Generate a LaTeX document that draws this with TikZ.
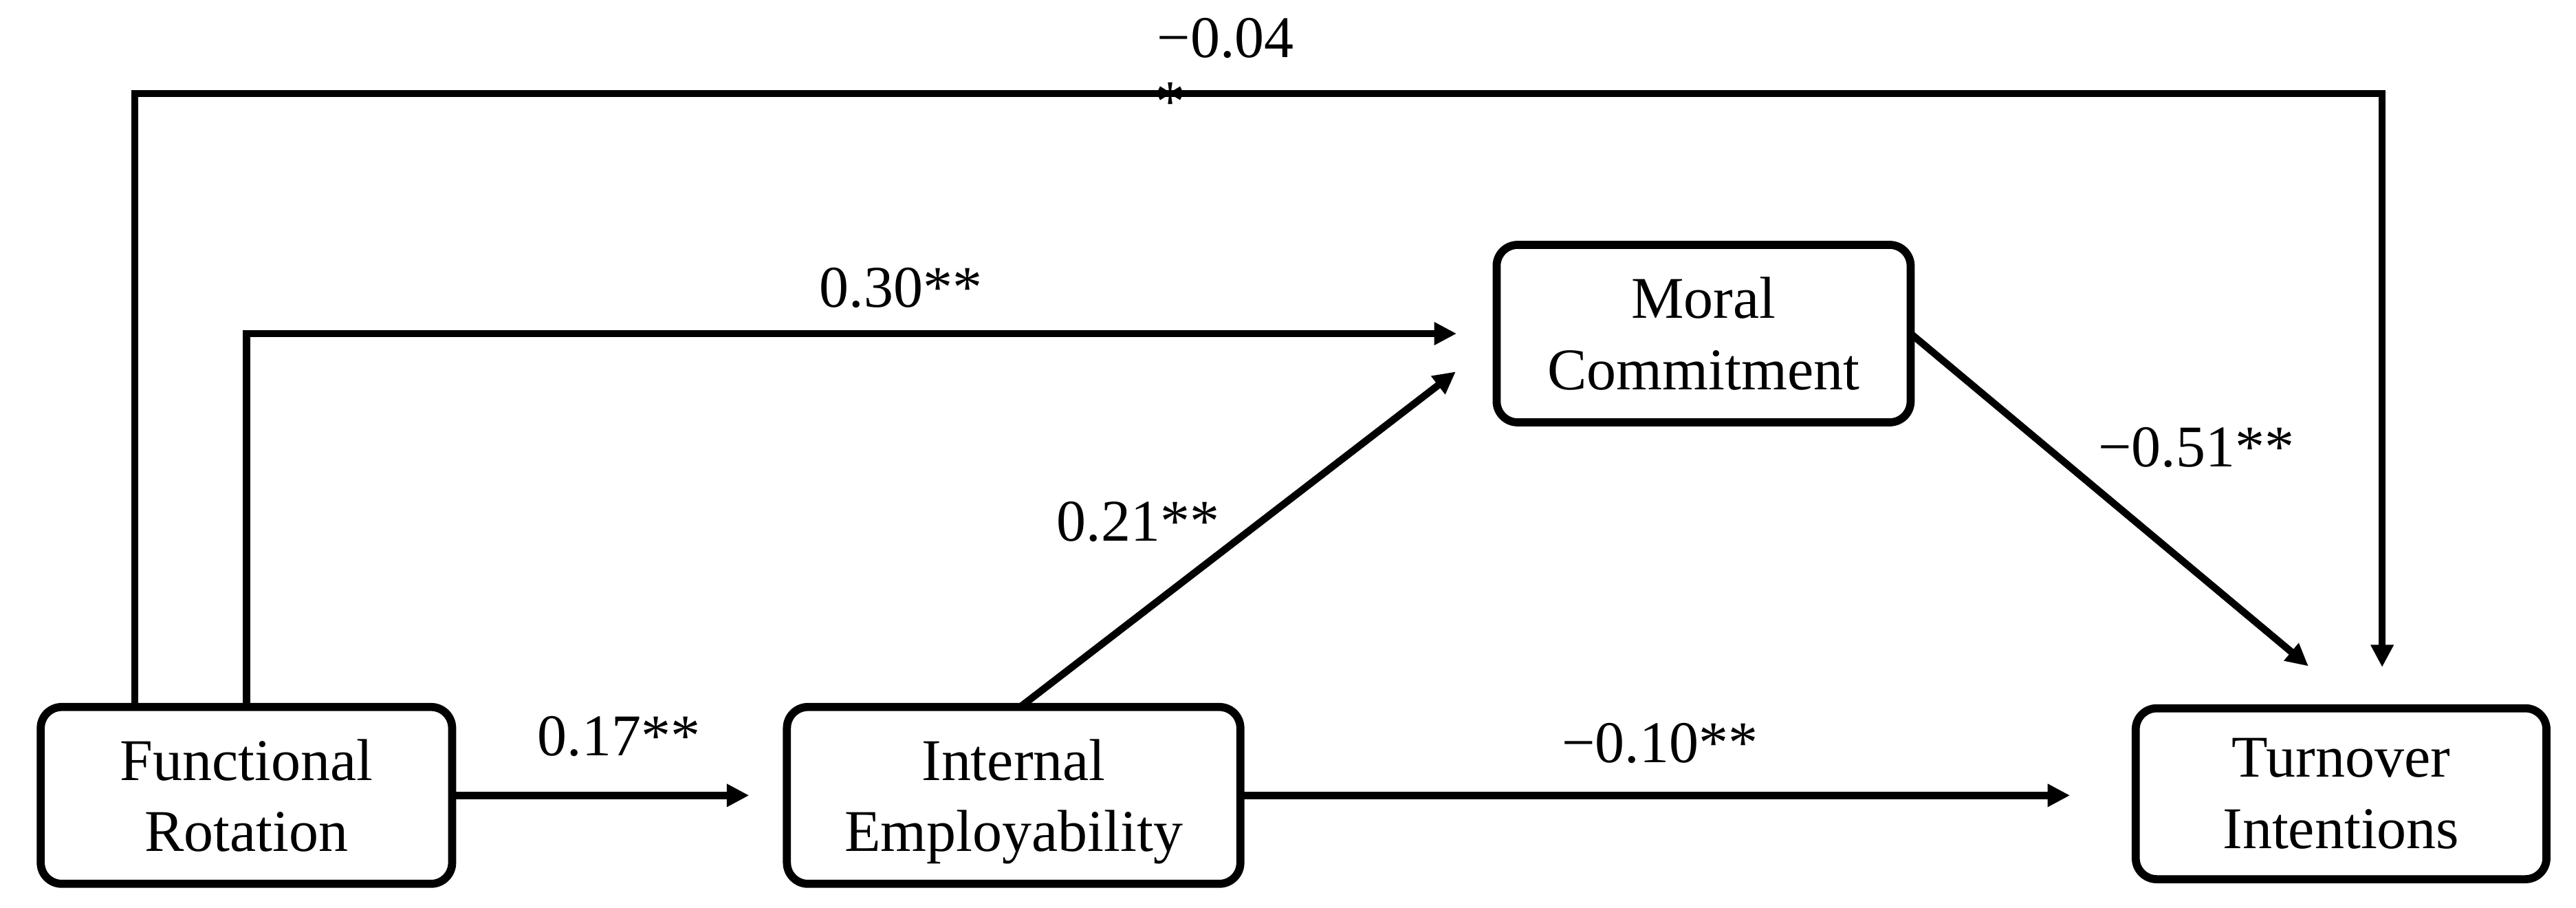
\documentclass[tikz,border=0pt]{standalone}
\usepackage{fontspec}
\usepackage{amsmath}
\setmainfont{Liberation Serif}
\usetikzlibrary{arrows.meta}
\begin{document}
\begin{tikzpicture}[x=0.25mm,y=-0.25mm,
  box/.style={draw,line width=3.5pt,rounded corners=3.2mm,align=center,inner sep=0pt,outer sep=0pt,
    minimum height=26.9mm,font=\fontsize{25.6pt}{30.8pt}\selectfont},
  conn/.style={line width=3.1pt,-{Triangle[length=3.4mm,width=3.3mm]}},
  coef/.style={anchor=base west,inner sep=0pt,font=\fontsize{25.6pt}{30.8pt}\selectfont}]
\useasboundingbox (0,0) rectangle (1568,552.5);
% boxes
\node[box,minimum width=62.6mm] (FR) at (150,484) {Functional\\Rotation};
\node[box,minimum width=69mm] (IE) at (617,484) {Internal\\\smash[b]{Employability}};
\node[box,minimum width=63mm,minimum height=27mm] (MC) at (1037,203) {Moral\\Commitment};
\node[box,minimum width=62.5mm,minimum height=26mm] (TI) at (1425,483) {Turnover\\Intentions};
\coordinate (topline) at (766,57);
% connectors
\draw[conn,shorten >=5.75mm] (FR.east) -- (IE.west);
\draw[conn,shorten >=10mm] (IE.east) -- (IE.east -| TI.west);
\draw[conn,shorten >=6.1mm] (FR.north) |- (MC.west);
\draw[conn,shorten >=6.25mm] ([xshift=-17mm]FR.north) |- (topline) -| ([xshift=6.25mm]TI.north);
\draw[conn,shorten >=7.85mm] ([xshift=1mm]IE.north) -- ([yshift=-1mm]MC.west);
\draw[conn,shorten >=10mm] (MC.east) -- ([xshift=2.7mm]TI.north);
% coefficients
\node[coef] (c04) at (704,35) {−0.04};
\node[coef] (c04s) at (703,74) {*};
\node[coef] (c30) at (498.5,187) {0.30**};
\node[coef] (c21) at (643,329.3) {0.21**};
\node[coef] (c17) at (327,460) {0.17**};
\node[coef] (c10) at (950.5,464) {−0.10**};
\node[coef] (c51) at (1277,284) {−0.51**};
\end{tikzpicture}
\end{document}
